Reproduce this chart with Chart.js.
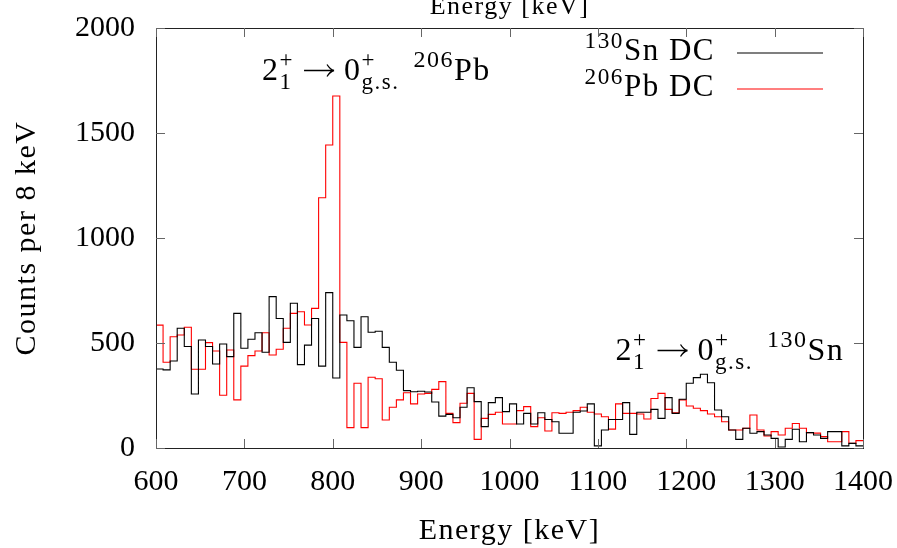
<!DOCTYPE html>
<html><head><meta charset="utf-8">
<script src="https://cdn.jsdelivr.net/npm/chart.js@4.4.1/dist/chart.umd.min.js"></script>
<style>html,body{margin:0;padding:0;background:#fff;}#wrap{width:897px;height:548px;}</style>
</head><body><div id="wrap"><canvas id="c" width="897" height="548"></canvas></div>
<script>
const energyStart = 600;
const binWidth = 8;
const sn130 = [376,372,414,570,483,257,514,483,400,495,435,641,475,518,549,456,721,617,503,689,
397,490,617,390,740,333,633,606,479,625,551,556,479,408,370,273,268,270,267,219,
152,160,144,194,287,221,102,216,240,173,210,114,165,114,168,136,125,70,70,170,
176,210,10,86,136,136,216,65,170,170,184,141,240,165,232,308,335,351,311,181,
149,86,41,94,70,78,62,46,5,41,89,30,73,62,46,78,78,10,22,10];
const pb206 = [585,408,530,538,575,375,375,502,462,251,467,229,390,440,462,549,443,470,570,641,
649,586,665,1192,1443,1676,503,97,308,97,337,330,133,194,229,263,210,257,260,279,
316,165,121,213,260,41,141,160,170,114,114,178,197,102,144,81,168,165,170,178,
194,170,162,149,90,210,165,165,162,138,236,260,184,168,229,200,189,178,162,149,
125,86,86,94,157,86,57,78,62,94,117,94,73,71,54,30,30,78,22,35];
const xTicks = [600,700,800,900,1000,1100,1200,1300,1400];
const yTicks = [0,500,1000,1500,2000];
const xTitle = 'Energy [keV]';
const yTitle = 'Counts per 8 keV';

const FONT = '"Liberation Serif", "DejaVu Serif", serif';

function toSteps(vals){
  const pts = vals.map((v,i)=>({x: energyStart + binWidth*i, y: v}));
  pts.push({x: energyStart + binWidth*vals.length, y: vals[vals.length-1]});
  return pts;
}

// rich text parts: {t, s:'n'|'sup'} | {sup, sub} | {gap} | {arrow}
function setFont(ctx, sz){ ctx.font = sz+'px '+FONT; }
function partWidth(ctx, p, size){
  if (p.gap !== undefined) return p.gap;
  if (p.arrow !== undefined) return p.arrow;
  if (p.sup !== undefined){
    setFont(ctx, size*0.72);
    return Math.max(ctx.measureText(p.sup).width, ctx.measureText(p.sub).width);
  }
  setFont(ctx, p.s==='n' ? size : size*0.75);
  return ctx.measureText(p.t).width;
}
function drawRich(ctx, x, y, parts, size, align){
  ctx.letterSpacing = '1.5px';
  let w = 0;
  for (const p of parts) w += partWidth(ctx, p, size);
  let cx = align==='right' ? x - w : x;
  ctx.textBaseline = 'alphabetic';
  ctx.textAlign = 'left';
  ctx.fillStyle = '#000';
  for (const p of parts){
    const pw = partWidth(ctx, p, size);
    if (p.gap !== undefined){ cx += pw; continue; }
    if (p.arrow !== undefined){
      const ay = Math.round(y - size*0.3) + 0.5;
      ctx.strokeStyle = '#000';
      ctx.lineWidth = 1.3;
      ctx.beginPath();
      ctx.moveTo(cx, ay); ctx.lineTo(cx + pw - 1, ay);
      ctx.moveTo(cx + pw - 7, ay - 6); ctx.quadraticCurveTo(cx + pw - 4, ay - 1, cx + pw, ay);
      ctx.moveTo(cx + pw - 7, ay + 6); ctx.quadraticCurveTo(cx + pw - 4, ay + 1, cx + pw, ay);
      ctx.stroke();
    } else if (p.sup !== undefined){
      setFont(ctx, size*0.72);
      ctx.fillText(p.sup, cx, y - size*0.40);
      ctx.fillText(p.sub, cx, y + size*0.28);
    } else {
      setFont(ctx, p.s==='n' ? size : size*0.75);
      ctx.fillText(p.t, cx, y + (p.s==='sup' ? -size*0.40 : 0));
    }
    cx += pw;
  }
  ctx.letterSpacing = '0px';
}

const transition = [
  {t:'2', s:'n'}, {sup:'+', sub:'1'}, {gap:10}, {arrow:30},
  {gap:10}, {t:'0', s:'n'}, {sup:'+', sub:'g.s.'}, {gap:14}
];
const pbLabel = transition.concat([{t:'206', s:'sup'}, {t:'Pb', s:'n'}]);
const snLabel = transition.concat([{t:'130', s:'sup'}, {t:'Sn', s:'n'}]);
const legendItems = [
  {parts:[{t:'130', s:'sup'}, {t:'Sn DC', s:'n'}], color:'#000000'},
  {parts:[{t:'206', s:'sup'}, {t:'Pb DC', s:'n'}], color:'#ff0000'}
];

const decor = {
  id: 'decor',
  afterDraw(chart){
    const ctx = chart.ctx, a = chart.chartArea;
    const xs = chart.scales.x, ys = chart.scales.y;
    ctx.save();
    ctx.strokeStyle = '#222';
    ctx.lineWidth = 1;
    ctx.strokeRect(Math.round(a.left)+0.5, Math.round(a.top)+0.5, Math.round(a.right-a.left), Math.round(a.bottom-a.top));
    ctx.strokeStyle = '#666';
    ctx.beginPath();
    const tl = 9;
    for (const v of xTicks){
      const px = Math.round(xs.getPixelForValue(v))+0.5;
      ctx.moveTo(px, a.bottom); ctx.lineTo(px, a.bottom - tl);
      ctx.moveTo(px, a.top); ctx.lineTo(px, a.top + tl);
    }
    for (const v of yTicks){
      const py = Math.round(ys.getPixelForValue(v))+0.5;
      ctx.moveTo(a.left, py); ctx.lineTo(a.left + tl, py);
      ctx.moveTo(a.right, py); ctx.lineTo(a.right - tl, py);
    }
    ctx.stroke();
    ctx.fillStyle = '#000';
    ctx.textAlign = 'center';
    ctx.textBaseline = 'alphabetic';
    const cxm = (a.left + a.right)/2;
    ctx.letterSpacing = '1.5px';
    ctx.font = '30px '+FONT;
    ctx.fillText(xTitle, cxm, 539);
    ctx.font = '26px '+FONT;
    ctx.fillText(xTitle, cxm, 14);
    ctx.save();
    ctx.translate(35, (a.top + a.bottom)/2);
    ctx.rotate(-Math.PI/2);
    ctx.font = '30px '+FONT;
    ctx.fillText(yTitle, 0, 0);
    ctx.restore();
    ctx.letterSpacing = '0px';
    legendItems.forEach((it, i) => {
      const by = a.top + 32 + i*36;
      drawRich(ctx, a.right - 148, by, it.parts, 31, 'right');
      ctx.strokeStyle = it.color;
      ctx.lineWidth = 1.2;
      ctx.beginPath();
      ctx.moveTo(a.right - 126, by - 7);
      ctx.lineTo(a.right - 40, by - 7);
      ctx.stroke();
    });
    drawRich(ctx, xs.getPixelForValue(720), ys.getPixelForValue(1752), pbLabel, 32, 'left');
    drawRich(ctx, xs.getPixelForValue(1120), ys.getPixelForValue(419), snLabel, 32, 'left');
    ctx.restore();
  }
};

function noPad(s){ s.paddingLeft = 0; s.paddingRight = 0; s.paddingTop = 0; s.paddingBottom = 0; }

new Chart(document.getElementById('c'), {
  type: 'line',
  data: {
    datasets: [
      {label:'130Sn DC', data: toSteps(sn130), borderColor:'#000000', borderWidth:1.1, pointRadius:0, stepped:true, fill:false},
      {label:'206Pb DC', data: toSteps(pb206), borderColor:'#ff0000', borderWidth:1.1, pointRadius:0, stepped:true, fill:false}
    ]
  },
  options: {
    responsive:false, animation:false, devicePixelRatio:1,
    layout:{padding:{top:28, right:34, left:0, bottom:0}},
    plugins:{legend:{display:false}, tooltip:{enabled:false}},
    scales:{
      x:{type:'linear', min:600, max:1400,
         afterBuildTicks(s){ s.ticks = xTicks.map(v=>({value:v})); },
         afterFit(s){ s.height = 100; noPad(s); },
         grid:{display:false, drawTicks:false}, border:{display:false},
         ticks:{font:{family:FONT, size:30}, color:'#000', padding:16, maxRotation:0, autoSkip:false,
                callback:(v)=>String(v)}},
      y:{min:0, max:2000,
         afterBuildTicks(s){ s.ticks = yTicks.map(v=>({value:v})); },
         afterFit(s){ s.width = 156; noPad(s); },
         grid:{display:false, drawTicks:false}, border:{display:false},
         ticks:{font:{family:FONT, size:30}, color:'#000', padding:21,
                callback:(v)=>String(v)}}
    }
  },
  plugins:[decor]
});
</script></body></html>
